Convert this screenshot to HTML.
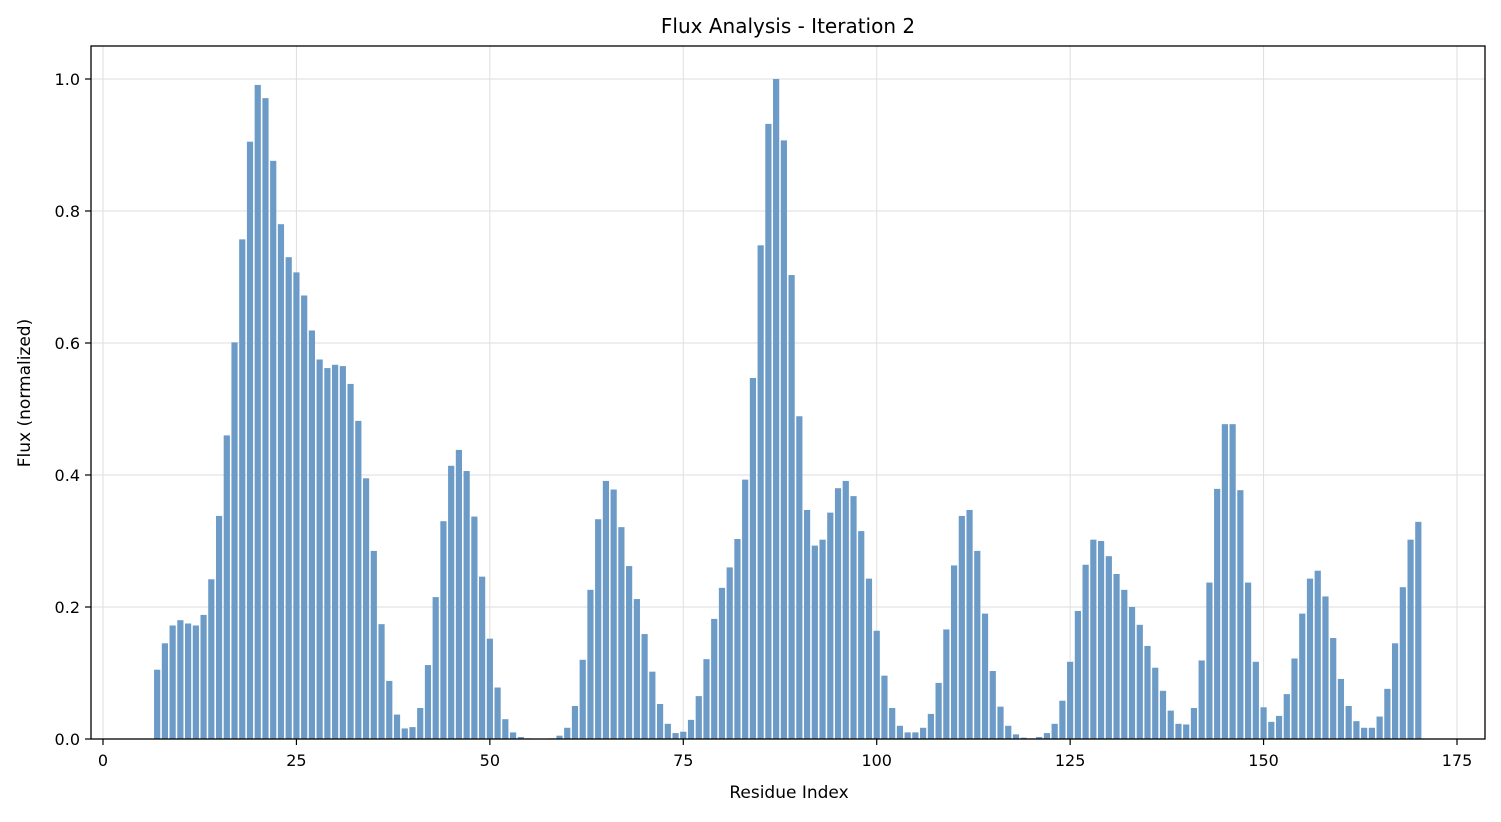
<!DOCTYPE html>
<html><head><meta charset="utf-8"><style>
html,body{margin:0;padding:0;background:#fff;}
svg text{font-family:"DejaVu Sans","Liberation Sans",sans-serif;}
</style></head><body>
<svg id="chart" width="1501" height="817" viewBox="0 0 1501 817" xmlns="http://www.w3.org/2000/svg">
<rect width="1501" height="817" fill="#fff"/>
<text x="788" y="33" font-size="20" text-anchor="middle" fill="#000">Flux Analysis - Iteration 2</text>
<g id="grid"></g>
<g id="bars"></g>
<rect x="91" y="46" width="1394" height="693" fill="none" stroke="#000" stroke-width="1.3"/>
<g id="axes"></g>
<text x="789" y="798" font-size="17" text-anchor="middle" fill="#000">Residue Index</text>
<text transform="translate(30,393) rotate(-90)" font-size="17" text-anchor="middle" fill="#000">Flux (normalized)</text>
</svg>
<script>
const startIndex = 7;
const fluxValues = [0.105,0.145,0.172,0.180,0.175,0.172,0.188,0.242,0.338,0.460,0.601,0.757,0.905,0.991,0.971,0.876,0.780,0.730,0.707,0.672,0.619,0.575,0.562,0.567,0.565,0.538,0.482,0.395,0.285,0.174,0.088,0.037,0.016,0.018,0.047,0.112,0.215,0.330,0.414,0.438,0.406,0.337,0.246,0.152,0.078,0.030,0.010,0.003,0.001,0,0,0.001,0.005,0.017,0.050,0.120,0.226,0.333,0.391,0.378,0.321,0.262,0.212,0.159,0.102,0.053,0.023,0.009,0.011,0.029,0.065,0.121,0.182,0.229,0.260,0.303,0.393,0.547,0.748,0.932,1.000,0.907,0.703,0.489,0.347,0.293,0.302,0.343,0.380,0.391,0.368,0.315,0.243,0.164,0.096,0.047,0.020,0.010,0.010,0.017,0.038,0.085,0.166,0.263,0.338,0.347,0.285,0.190,0.103,0.049,0.020,0.007,0.002,0.001,0.003,0.009,0.023,0.058,0.117,0.194,0.264,0.302,0.300,0.277,0.250,0.226,0.200,0.173,0.141,0.108,0.073,0.043,0.023,0.022,0.047,0.119,0.237,0.379,0.477,0.477,0.377,0.237,0.117,0.048,0.026,0.035,0.068,0.122,0.190,0.243,0.255,0.216,0.153,0.091,0.050,0.027,0.017,0.017,0.034,0.076,0.145,0.230,0.302,0.329];
const xTicks = [0,25,50,75,100,125,150,175];
const yTicks = [0,0.2,0.4,0.6,0.8,1.0];
const yTickLabels = ["0.0","0.2","0.4","0.6","0.8","1.0"];

const NS = "http://www.w3.org/2000/svg";
const xPx = v => 103 + v * (1457 - 103) / 175;
const yPx = v => 739 - v * 660;
function mk(tag, attrs, parent){const e=document.createElementNS(NS,tag);for(const k in attrs)e.setAttribute(k,attrs[k]);parent.appendChild(e);return e;}
const grid=document.getElementById('grid'), bars=document.getElementById('bars'), axes=document.getElementById('axes');

xTicks.forEach(t=>{
  const gl=mk('line',{x1:xPx(t),x2:xPx(t),y1:46,y2:739,stroke:'#dedede','stroke-width':1},grid);
  
  
  const tk=mk('line',{x1:xPx(t),x2:xPx(t),y1:739,y2:745,stroke:'#000','stroke-width':1.2},axes);
  
  
  const lb=mk('text',{x:xPx(t),y:766,'font-size':16,'text-anchor':'middle',fill:'#000'},axes);
  lb.textContent=String(t);
  
  
});
yTicks.forEach((t,i)=>{
  const gl=mk('line',{x1:91,x2:1485,y1:yPx(t),y2:yPx(t),stroke:'#dedede','stroke-width':1},grid);
  
  
  const tk=mk('line',{x1:85,x2:91,y1:yPx(t),y2:yPx(t),stroke:'#000','stroke-width':1.2},axes);
  
  
  const lb=mk('text',{x:80,y:yPx(t)+6,'font-size':16,'text-anchor':'end',fill:'#000'},axes);
  lb.textContent=yTickLabels[i];
  
  
});
fluxValues.forEach((v,i)=>{
  const idx=startIndex+i;
  const x0=xPx(idx-0.4), x1=xPx(idx+0.4);
  const b=mk('rect',{x:x0,y:yPx(v),width:x1-x0,height:yPx(0)-yPx(v),fill:'#6b9bc6'},bars);
  
  
});
</script>
</body></html>
